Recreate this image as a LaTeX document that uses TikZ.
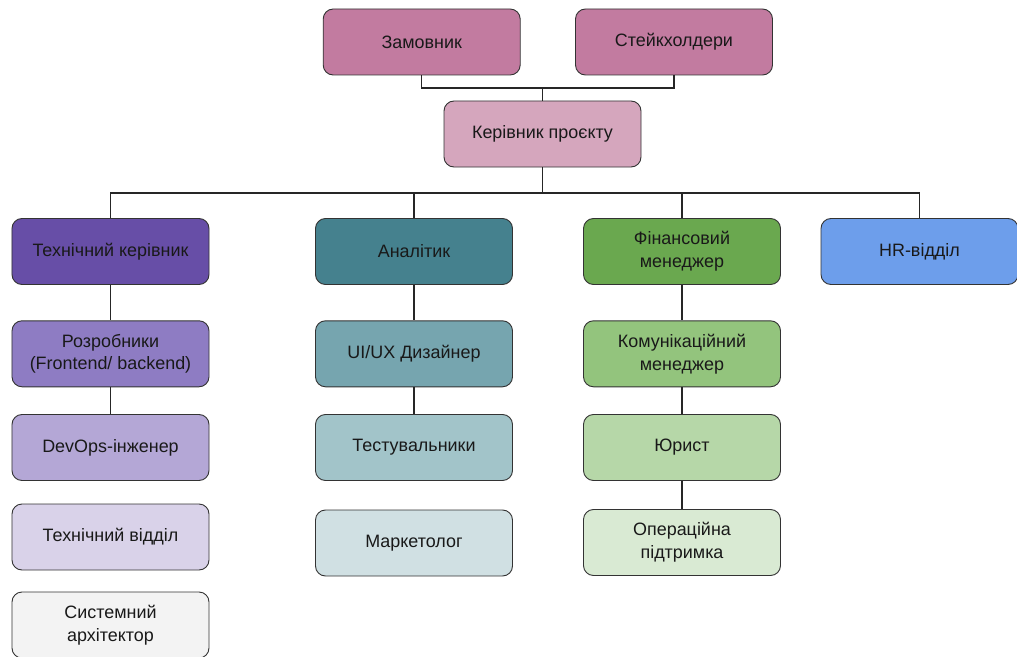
\documentclass[tikz,border=0pt]{standalone}
\usepackage{fontspec}
\setmainfont{Liberation Sans}
\begin{document}
\begin{tikzpicture}[x=1bp,y=-1bp,
  box/.style={draw=black!80, line width=0.9bp, rounded corners=10bp,
    minimum width=197bp, minimum height=66bp, align=center,
    font=\fontsize{18}{23}\selectfont, text=black!90, inner sep=2bp},
  link/.style={draw=black!85, line width=1.1bp}]
\definecolor{cZam}{HTML}{C27BA0}
\definecolor{cKer}{HTML}{D5A6BD}
\definecolor{cT1}{HTML}{674EA7}
\definecolor{cT2}{HTML}{8E7CC3}
\definecolor{cT3}{HTML}{B4A7D6}
\definecolor{cT4}{HTML}{D9D2E9}
\definecolor{cT5}{HTML}{F3F3F3}
\definecolor{cA1}{HTML}{45818E}
\definecolor{cA2}{HTML}{76A5AF}
\definecolor{cA3}{HTML}{A2C4C9}
\definecolor{cA4}{HTML}{D0E0E3}
\definecolor{cF1}{HTML}{6AA84F}
\definecolor{cF2}{HTML}{93C47D}
\definecolor{cF3}{HTML}{B6D7A8}
\definecolor{cF4}{HTML}{D9EAD3}
\definecolor{cHR}{HTML}{6D9EEB}
\useasboundingbox (0,0) rectangle (1017,657);

% top level
\node[box, fill=cZam] (zam) at (421.7,42) {Замовник};
\node[box, fill=cZam] (st) at (674,42) {Стейкхолдери};
\node[box, fill=cKer] (ker) at (542.5,134) {Керівник проєкту};

% first row
\node[box, fill=cT1] (tk) at (110.5,251.5) {Технічний керівник};
\node[box, fill=cA1] (an) at (414,251.5) {Аналітик};
\node[box, fill=cF1] (fm) at (682,251.5) {Фінансовий\\менеджер};
\node[box, fill=cHR] (hr) at (919.5,251.5) {HR-відділ};

% technical column
\node[box, fill=cT2] (dev) at (110.5,353.8) {Розробники\\(Frontend/ backend)};
\node[box, fill=cT3] (ops) at (110.5,447.5) {DevOps-інженер};
\node[box, fill=cT4] (td) at (110.5,537) {Технічний відділ};
\node[box, fill=cT5] (sa) at (110.5,625) {Системний\\архітектор};

% analytics column
\node[box, fill=cA2] (ux) at (414,353.8) {UI/UX Дизайнер};
\node[box, fill=cA3] (qa) at (414,447.5) {Тестувальники};
\node[box, fill=cA4] (mk) at (414,543) {Маркетолог};

% finance column
\node[box, fill=cF2] (cm) at (682,353.8) {Комунікаційний\\менеджер};
\node[box, fill=cF3] (lw) at (682,447.5) {Юрист};
\node[box, fill=cF4] (op) at (682,542.5) {Операційна\\підтримка};

% junctions
\coordinate (j1) at (542.5,88);
\coordinate (j2) at (542.5,193);

\draw[link] (zam.south) |- (j1) -| (st.south);
\draw[link] (j1) -- (ker.north);
\draw[link] (ker.south) -- (j2);
\draw[link] (j2) -| (tk.north);
\draw[link] (j2) -| (an.north);
\draw[link] (j2) -| (fm.north);
\draw[link] (j2) -| (hr.north);

\draw[link] (tk) -- (dev);
\draw[link] (dev) -- (ops);
\draw[link] (an) -- (ux);
\draw[link] (ux) -- (qa);
\draw[link] (fm) -- (cm);
\draw[link] (cm) -- (lw);
\draw[link] (lw) -- (op);
\end{tikzpicture}
\end{document}
